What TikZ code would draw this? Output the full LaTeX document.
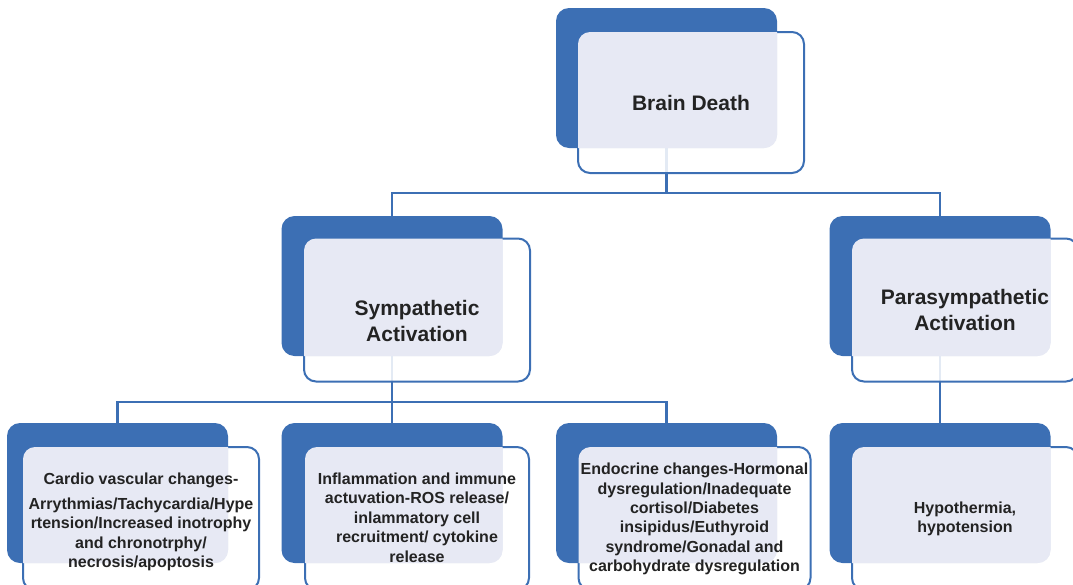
\documentclass[tikz,border=0pt]{standalone}
\usepackage{fontspec}
\setmainfont{Liberation Sans}
\definecolor{sablue}{RGB}{60,111,180}
\definecolor{salav}{RGB}{231,233,244}
\definecolor{satext}{RGB}{35,35,35}

\tikzset{
  backbox/.style={fill=sablue, rounded corners=13pt, minimum width=221pt,
    minimum height=140pt, inner sep=0pt, outer sep=0pt},
  frontbox/.style={draw=sablue, line width=2pt, fill=white, fill opacity=0.86,
    rounded corners=12pt, minimum width=#1, minimum height=143pt,
    inner sep=0pt, outer sep=0pt},
  frontbox/.default=226pt,
  conn/.style={draw=sablue, line width=2.7pt},
  bigtext/.style={font=\fontsize{21}{25.2}\selectfont\bfseries, text=satext,
    align=center, inner sep=0pt},
  smalltext/.style={font=\fontsize{16}{19.4}\selectfont\bfseries, text=satext,
    align=center, inner sep=0pt},
}

% lavender area where a front box lies over its blue back box
\newcommand\boxoverlap[2]{%
  \begin{scope}
    \clip[rounded corners=13pt] (#1.north west) rectangle (#1.south east);
    \fill[salav, rounded corners=12pt] (#2.north west) rectangle (#2.south east);
  \end{scope}}

\begin{document}
\begin{tikzpicture}[x=1pt, y=-1pt]
  \useasboundingbox (0,0) rectangle (1073,584);
  \clip (0,0) rectangle (1073,584);

  % back boxes
  \node[backbox] (bd0) at (666.5,78) {};
  \node[backbox] (sy0) at (392,286) {};
  \node[backbox] (pa0) at (940,286) {};
  \node[backbox] (cv0) at (117.5,493) {};
  \node[backbox] (in0) at (392,493) {};
  \node[backbox] (en0) at (666.5,493) {};
  \node[backbox] (hy0) at (940,493) {};

  % connectors
  \coordinate (j1) at (666.5,193);
  \coordinate (j2) at (392,402);
  \draw[conn] (bd0.south) -- (j1);
  \draw[conn] (sy0.north) |- (j1) -| (pa0.north);
  \draw[conn] (sy0.south) -- (j2);
  \draw[conn] (cv0.north) |- (j2) -| (en0.north);
  \draw[conn] (j2) -- (in0.north);
  \draw[conn] (pa0.south) -- (hy0.north);

  % front boxes
  \node[frontbox, minimum height=141pt] (bd) at (691,102.5) {};
  \node[frontbox] (sy) at (417,310) {};
  \node[frontbox] (pa) at (965,310) {};
  \node[frontbox=236pt] (cv) at (141,518.5) {};
  \node[frontbox=224pt] (in) at (417,518.5) {};
  \node[frontbox=232pt] (en) at (694.5,518.5) {};
  \node[frontbox] (hy) at (965,518.5) {};

  \boxoverlap{bd0}{bd}
  \boxoverlap{sy0}{sy}
  \boxoverlap{pa0}{pa}
  \boxoverlap{cv0}{cv}
  \boxoverlap{in0}{in}
  \boxoverlap{en0}{en}
  \boxoverlap{hy0}{hy}

  % labels
  \node[bigtext] (bd-t) at (691,102.5) {Brain Death};
  \node[bigtext] (sy-t) at (417,321) {Sympathetic\\Activation};
  \node[bigtext] (pa-t) at (965,310) {Parasympathetic\\Activation};
  \node[smalltext] (cv-t) at (141,522) {Cardio vascular changes-\\[5pt]
    Arrythmias/Tachycardia/Hype\\rtension/Increased inotrophy\\
    and chronotrphy/\\necrosis/apoptosis};
  \node[smalltext] (in-t) at (417,517.5) {Inflammation and immune\\
    actuvation-ROS release/\\inlammatory cell\\recruitment/ cytokine\\release};
  \node[smalltext] (en-t) at (694.5,519) {Endocrine changes-Hormonal\\
    dysregulation/Inadequate\\cortisol/Diabetes\\insipidus/Euthyroid\\
    syndrome/Gonadal and\\carbohydrate dysregulation};
  \node[smalltext] (hy-t) at (965,519) {Hypothermia,\\hypotension};
\end{tikzpicture}
\end{document}
